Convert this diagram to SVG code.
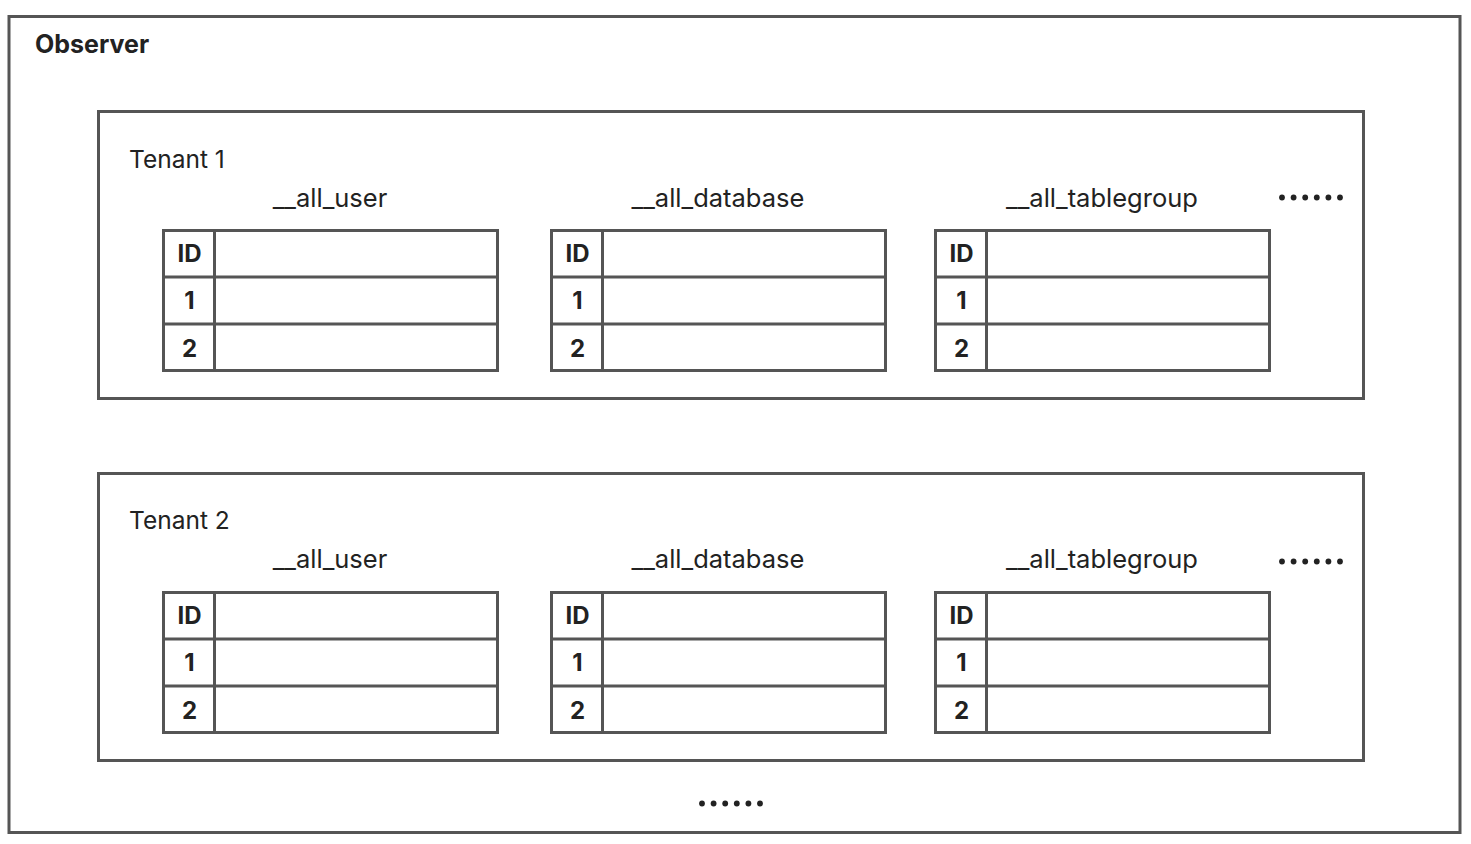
<svg xmlns="http://www.w3.org/2000/svg" width="1471" height="844" viewBox="0 0 1471 844">
<defs>
<style>
.box{fill:none;stroke:#555;stroke-width:3}
.line{stroke:#555;stroke-width:3}
.t{font-family:Inter,"Liberation Sans",sans-serif;fill:#222}
.title{font-size:25px;font-weight:bold}
.ten{font-size:24.5px}
.lab{font-size:25.5px;text-anchor:middle}
.cell{font-size:24px;font-weight:bold;text-anchor:middle}
.dot{fill:#222}
</style>
<g id="tbl">
<rect class="box" x="0" y="0" width="334" height="140"/>
<line class="line" x1="0" y1="46.5" x2="334" y2="46.5"/>
<line class="line" x1="0" y1="93.5" x2="334" y2="93.5"/>
<line class="line" x1="51" y1="0" x2="51" y2="140"/>
<text class="t cell" x="26" y="31">ID</text>
<text class="t cell" x="26" y="78">1</text>
<text class="t cell" x="26" y="126">2</text>
</g>
<g id="dots">
<circle class="dot" cx="0" cy="0" r="2.9"/>
<circle class="dot" cx="11.6" cy="0" r="2.9"/>
<circle class="dot" cx="23.2" cy="0" r="2.9"/>
<circle class="dot" cx="34.8" cy="0" r="2.9"/>
<circle class="dot" cx="46.4" cy="0" r="2.9"/>
<circle class="dot" cx="58" cy="0" r="2.9"/>
</g>
</defs>
<rect width="1471" height="844" fill="#fff"/>
<g id="observer">
<rect class="box" x="9" y="16.5" width="1451" height="816"/>
<text class="t title" x="35" y="53">Observer</text>
<use href="#dots" x="702" y="803.5"/>
</g>
<g id="tenant1">
<rect class="box" x="98.5" y="111.5" width="1265" height="287"/>
<text class="t ten" x="129" y="168">Tenant 1</text>
<text class="t lab" x="330" y="207">__all_user</text>
<text class="t lab" x="718" y="207">__all_database</text>
<text class="t lab" x="1102" y="207">__all_tablegroup</text>
<use href="#dots" x="1282" y="197.5"/>
<g id="t1_all_user"><use href="#tbl" x="163.5" y="230.5"/></g>
<g id="t1_all_database"><use href="#tbl" x="551.5" y="230.5"/></g>
<g id="t1_all_tablegroup"><use href="#tbl" x="935.5" y="230.5"/></g>
</g>
<g id="tenant2">
<rect class="box" x="98.5" y="473.5" width="1265" height="287"/>
<text class="t ten" x="129" y="529">Tenant 2</text>
<text class="t lab" x="330" y="568">__all_user</text>
<text class="t lab" x="718" y="568">__all_database</text>
<text class="t lab" x="1102" y="568">__all_tablegroup</text>
<use href="#dots" x="1282" y="561.5"/>
<g id="t2_all_user"><use href="#tbl" x="163.5" y="592.5"/></g>
<g id="t2_all_database"><use href="#tbl" x="551.5" y="592.5"/></g>
<g id="t2_all_tablegroup"><use href="#tbl" x="935.5" y="592.5"/></g>
</g>
<g id="connectors"></g>
</svg>
